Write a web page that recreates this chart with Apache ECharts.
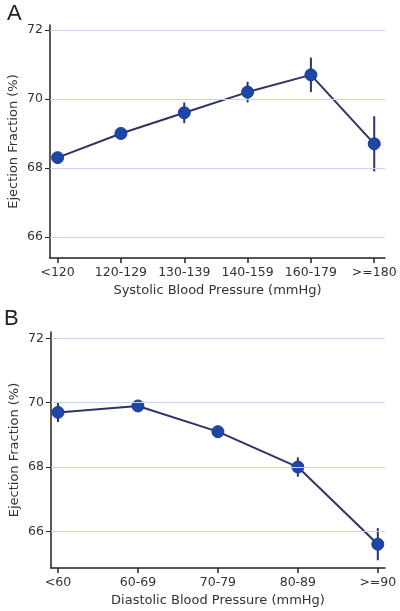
<!DOCTYPE html>
<html>
<head>
<meta charset="utf-8">
<script src="https://cdn.jsdelivr.net/npm/echarts@6/dist/echarts.min.js"></script>
<style>html,body{margin:0;padding:0;background:#fff}#c{width:400px;height:611px}</style>
</head>
<body>
<div id="c"></div>
<script>
// ---- Data ----
const sysCategories = ['<120', '120-129', '130-139', '140-159', '160-179', '>=180'];
const sysMean = [68.3, 69.0, 69.6, 70.2, 70.7, 68.7];
const sysLow  = [68.2, 68.9, 69.3, 69.9, 70.2, 67.9];
const sysHigh = [68.4, 69.1, 69.9, 70.5, 71.2, 69.5];

const diaCategories = ['<60', '60-69', '70-79', '80-89', '>=90'];
const diaMean = [69.7, 69.9, 69.1, 68.0, 65.6];
const diaLow  = [69.4, 69.75, 69.0, 67.7, 65.1];
const diaHigh = [70.0, 70.05, 69.2, 68.3, 66.1];

const yTicks = [66, 68, 70, 72];
const yTitle = 'Ejection Fraction (%)';
const sysTitle = 'Systolic Blood Pressure (mmHg)';
const diaTitle = 'Diastolic Blood Pressure (mmHg)';
const panelLabels = ['A', 'B'];

// ---- Style ----
const FONT = 'DejaVu Sans';
const TXT = '#333';
const AXIS = '#222';
const LINE = '#2c3564';
const DOT = '#1d46a6';
const GRIDC = '#c8d2f3';

const chart = echarts.init(document.getElementById('c'), null, {renderer: 'canvas'});

function xAxisFor(cats, gi, min, max, title) {
  const idx = cats.map((_, i) => i);
  return {
    type: 'value', gridIndex: gi, min: min, max: max,
    name: title, nameLocation: 'middle', nameGap: 26, nameMoveOverlap: false,
    nameTextStyle: {fontFamily: FONT, fontSize: 13, color: TXT},
    axisLine: {show: true, onZero: false, lineStyle: {color: AXIS, width: 1.5}},
    axisTick: {show: true, length: 5, customValues: idx, lineStyle: {color: AXIS, width: 1.5}},
    axisLabel: {customValues: idx, margin: 8, fontFamily: FONT, fontSize: 12.5, color: TXT,
      formatter: v => cats[Math.round(v)]},
    splitLine: {show: false}
  };
}
function yAxisFor(gi, min, max) {
  return {
    type: 'value', gridIndex: gi, min: min, max: max,
    name: yTitle, nameLocation: 'middle', nameGap: 30, nameMoveOverlap: false,
    nameTextStyle: {fontFamily: FONT, fontSize: 13, color: TXT},
    axisLine: {show: true, onZero: false, lineStyle: {color: AXIS, width: 1.5}},
    axisTick: {show: true, length: 5, customValues: yTicks, lineStyle: {color: AXIS, width: 1}},
    axisLabel: {customValues: yTicks, margin: 7, fontFamily: FONT, fontSize: 12.5, color: TXT,
      formatter: v => String(v)},
    splitLine: {show: false}
  };
}
function gridLines() {
  return {
    silent: true, symbol: 'none', label: {show: false},
    lineStyle: {color: GRIDC, width: 1, type: 'solid'},
    data: yTicks.map(v => ({yAxis: v}))
  };
}
function errorSeries(gi, low, high) {
  return {
    type: 'custom', xAxisIndex: gi, yAxisIndex: gi, z: 1,
    data: low.map((l, i) => [i, l, high[i]]),
    renderItem: function (params, api) {
      const p1 = api.coord([api.value(0), api.value(1)]);
      const p2 = api.coord([api.value(0), api.value(2)]);
      return {type: 'line', shape: {x1: p1[0], y1: p1[1], x2: p2[0], y2: p2[1]},
        style: {stroke: LINE, lineWidth: 2}};
    }
  };
}
function lineSeries(gi, mean) {
  return {
    type: 'line', xAxisIndex: gi, yAxisIndex: gi, z: 3,
    data: mean.map((v, i) => [i, v]),
    symbol: 'circle', symbolSize: 12,
    lineStyle: {color: LINE, width: 2},
    itemStyle: {color: DOT, borderColor: '#1a3c8e', borderWidth: 1},
    markLine: gridLines()
  };
}

chart.setOption({
  animation: false,
  backgroundColor: '#fff',
  grid: [
    {left: 50, right: 15, top: 25, height: 233, outerBoundsMode: 'none', containLabel: false},
    {left: 51, right: 15, top: 332, height: 236, outerBoundsMode: 'none', containLabel: false}
  ],
  xAxis: [
    xAxisFor(sysCategories, 0, -0.12, 5.17, sysTitle),
    xAxisFor(diaCategories, 1, -0.0875, 4.09, diaTitle)
  ],
  yAxis: [
    yAxisFor(0, 65.39, 72.145),
    yAxisFor(1, 64.86, 72.2)
  ],
  graphic: [
    {type: 'text', left: 7, top: 3, style: {text: panelLabels[0], font: '22px "Liberation Sans"', fill: '#222'}},
    {type: 'text', left: 4, top: 308, style: {text: panelLabels[1], font: '22px "Liberation Sans"', fill: '#222'}}
  ],
  series: [
    errorSeries(0, sysLow, sysHigh),
    lineSeries(0, sysMean),
    errorSeries(1, diaLow, diaHigh),
    lineSeries(1, diaMean)
  ]
});
</script>
</body>
</html>
